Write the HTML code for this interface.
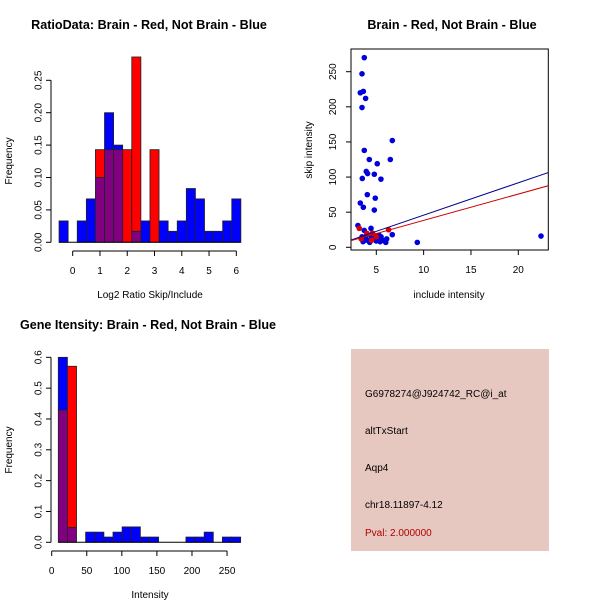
<!DOCTYPE html>
<html><head><meta charset="utf-8"><style>
body{margin:0;background:#fff}
svg{display:block;font-family:"Liberation Sans",sans-serif}
</style></head><body>
<svg id="s" width="600" height="600" xmlns="http://www.w3.org/2000/svg">
<rect width="600" height="600" fill="#fff"/>
<text x="149" y="29" font-size="12.6" font-weight="bold" text-anchor="middle">RatioData: Brain - Red, Not Brain - Blue</text>
<text x="452" y="29" font-size="12.6" font-weight="bold" text-anchor="middle">Brain - Red, Not Brain - Blue</text>
<text x="148" y="329" font-size="12.6" font-weight="bold" text-anchor="middle">Gene Itensity: Brain - Red, Not Brain - Blue</text>
<text x="150" y="298" font-size="10" text-anchor="middle">Log2 Ratio Skip/Include</text>
<text x="12" y="161" font-size="10" text-anchor="middle" transform="rotate(-90 12 161)">Frequency</text>
<text x="449" y="298" font-size="10" text-anchor="middle">include intensity</text>
<text x="312" y="150" font-size="10" text-anchor="middle" transform="rotate(-90 312 150)">skip intensity</text>
<text x="150" y="598" font-size="10" text-anchor="middle">Intensity</text>
<text x="12" y="450" font-size="10" text-anchor="middle" transform="rotate(-90 12 450)">Frequency</text>
<g>
<rect x="351" y="349" width="198" height="202" fill="#e6c8c0"/>
<text x="365" y="397" font-size="10">G6978274@J924742_RC@i_at</text>
<text x="365" y="434" font-size="10">altTxStart</text>
<text x="365" y="471" font-size="10">Aqp4</text>
<text x="365" y="508" font-size="10">chr18.11897-4.12</text>
<text x="365" y="536" font-size="10" fill="#b00000">Pval: 2.000000</text>
</g>
</svg>
<script>
// Ratio histogram data (bin centers k/3)
const ratioBinStart = -0.5;
const ratioBinWidth = 1/3;
const ratioBlue = [0.033,0,0.033,0.067,0.1,0.2,0.15,0,0.017,0.033,0,0.033,0.017,0.033,0.083,0.067,0.017,0.017,0.033,0.067];
const ratioRed  = [0,0,0,0,0.143,0.143,0.143,0.143,0.286,0,0.143,0,0,0,0,0,0,0,0,0];
const ratioYTicks = [0,0.05,0.10,0.15,0.20,0.25];
const ratioYLabels = ["0.00","0.05","0.10","0.15","0.20","0.25"];
const ratioXTicks = [0,1,2,3,4,5,6];
// Intensity histogram
const intBinStart = 9.4;
const intBinWidth = 13;
const intBlue = [0.6,0.048,0,0.033,0.033,0.017,0.033,0.05,0.05,0.017,0.017,0,0,0,0.017,0.017,0.033,0,0.017,0.017];
const intRed  = [0.429,0.571,0,0,0,0,0,0,0,0,0,0,0,0,0,0,0,0,0,0];
const intYTicks = [0,0.1,0.2,0.3,0.4,0.5,0.6];
const intYLabels = ["0.0","0.1","0.2","0.3","0.4","0.5","0.6"];
const intXTicks = [0,50,100,150,200,250];
// Scatter
const blueX = [3.73,3.49,3.31,3.63,3.87,3.49,6.69,3.73,4.26,6.48,5.1,3.94,4.08,3.52,4.79,5.49,4.05,4.89,3.31,3.63,4.79,3.06,3.73,4.44,6.69,9.33,22.4,3.5,3.6,3.9,4.1,4.3,4.5,4.7,4.9,5.0,5.2,5.4,5.5,5.7,5.9,6.1,6.0,4.0,4.6,5.3,3.8];
const blueY = [270,247,220,222,212,199,152,138,125,125,119,108,105,98,104,97,75,70,63,57,53,31,24,27,18,7,16,15,8,12,10,7,14,11,16,9,12,8,15,10,9,12,7,18,20,17,10];
const redX = [3.2,4.0,4.6,6.3,3.4,5.0,4.5];
const redY = [27,20,20,25,12,15,10];
const blueFit = [-0.34,4.61]; // intercept, slope
const redFit = [0.77,3.75];
const scXTicks = [5,10,15,20];
const scYTicks = [0,50,100,150,200,250];

const svg = document.getElementById('s');
const NS = 'http://www.w3.org/2000/svg';
function mk(tag, attrs, parent){const e=document.createElementNS(NS,tag);for(const k in attrs)e.setAttribute(k,attrs[k]);(parent||svg).appendChild(e);return e;}
function txt(x,y,s,attrs,parent){const e=mk('text',Object.assign({x:x,y:y,'font-size':10},attrs||{}),parent);e.textContent=s;return e;}

function hist(name, blue, red, start, width, sx, sy, y0, yTicks, yLabels, xTicks, axisLeft, xAxisY){
  const g = mk('g',{});
  
  
  for(let i=0;i<blue.length;i++){
    const x1=sx(start+i*width), x2=sx(start+(i+1)*width);
    const b=blue[i], r=red[i], m=Math.min(b,r);
    const parts=[];
    if(m>0) parts.push([0,m,'#800080']);
    if(b>m) parts.push([m,b,'#0000ff']);
    if(r>m) parts.push([m,r,'#ff0000']);
    parts.forEach(p=>{
      const rc=mk('rect',{x:x1,y:sy(p[1]),width:x2-x1,height:sy(p[0])-sy(p[1]),fill:p[2],stroke:'#222','stroke-width':0.8},g);
      
      
    });
  }
  const x0=sx(start), xe=sx(start+blue.length*width);
  mk('line',{x1:x0,x2:xe,y1:y0,y2:y0,stroke:'#000'},g);
  const ya=mk('g',{},g);
  
  
  mk('line',{x1:axisLeft,x2:axisLeft,y1:sy(yTicks[0]),y2:sy(yTicks[yTicks.length-1]),stroke:'#000'},ya);
  yTicks.forEach((t,i)=>{const y=sy(t);mk('line',{x1:axisLeft-5,x2:axisLeft,y1:y,y2:y,stroke:'#000'},ya);
    const lx=axisLeft-13;
    txt(lx+3.5,y,yLabels[i],{'text-anchor':'middle',transform:'rotate(-90 '+(lx+3.5)+' '+y+')'},ya);});
  const xa=mk('g',{},g);
  
  
  mk('line',{x1:sx(xTicks[0]),x2:sx(xTicks[xTicks.length-1]),y1:xAxisY,y2:xAxisY,stroke:'#000'},xa);
  xTicks.forEach(t=>{const x=sx(t);mk('line',{x1:x,x2:x,y1:xAxisY,y2:xAxisY+5,stroke:'#000'},xa);
    txt(x,xAxisY+23,String(t),{'text-anchor':'middle'},xa);});
}
const rsx=v=>72.7+v*27.27, rsy=v=>242.3-v*648;
hist('ratio-histogram',ratioBlue,ratioRed,ratioBinStart,ratioBinWidth,rsx,rsy,242.3,ratioYTicks,ratioYLabels,ratioXTicks,51,251);
const isx=v=>51.7+v*0.7014, isy=v=>542.3-v*308.3;
hist('intensity-histogram',intBlue,intRed,intBinStart,intBinWidth,isx,isy,542.3,intYTicks,intYLabels,intXTicks,51,551);

// scatter
const ssx=v=>376.3+(v-5)*9.467, ssy=v=>247.3-v*0.7024;
const sg=mk('g',{});


mk('rect',{x:351,y:49,width:197.3,height:201,fill:'none',stroke:'#000'},sg);
const cp=mk('clipPath',{id:'cp'},sg);mk('rect',{x:351,y:49,width:197.3,height:201},cp);
const pts=mk('g',{'clip-path':'url(#cp)'},sg);
for(let i=0;i<blueX.length;i++){const c=mk('circle',{cx:ssx(blueX[i]),cy:ssy(blueY[i]),r:2.8,fill:'#0000dd'},pts);
  }
for(let i=0;i<redX.length;i++){const c=mk('circle',{cx:ssx(redX[i]),cy:ssy(redY[i]),r:2.8,fill:'#dd0000'},pts);
  }
const xl=2.33, xr=23.2;
const bl=mk('line',{x1:ssx(xl),y1:ssy(blueFit[0]+blueFit[1]*xl),x2:ssx(xr),y2:ssy(blueFit[0]+blueFit[1]*xr),stroke:'#00008b'},pts);

const rl=mk('line',{x1:ssx(xl),y1:ssy(redFit[0]+redFit[1]*xl),x2:ssx(xr),y2:ssy(redFit[0]+redFit[1]*xr),stroke:'#cc0000'},pts);

scXTicks.forEach(t=>{const x=ssx(t);mk('line',{x1:x,x2:x,y1:250,y2:255,stroke:'#000'},sg);txt(x,273,String(t),{'text-anchor':'middle'},sg);});
scYTicks.forEach(t=>{const y=ssy(t);mk('line',{x1:346,x2:351,y1:y,y2:y,stroke:'#000'},sg);txt(336,y,String(t),{'text-anchor':'middle',transform:'rotate(-90 336 '+y+')'},sg);});
</script>
</body></html>
